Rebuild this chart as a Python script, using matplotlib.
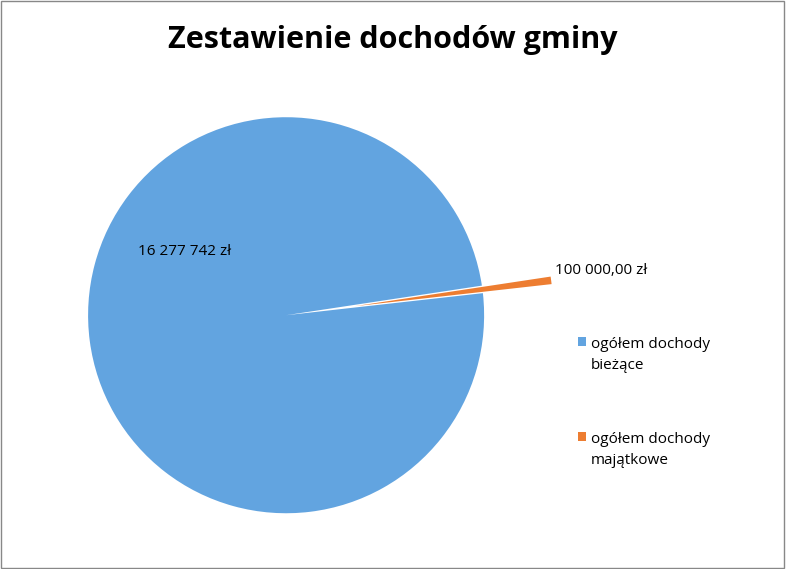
import matplotlib.pyplot as plt
from matplotlib.patches import Rectangle

categories = ["ogółem dochody\nbieżące", "ogółem dochody\nmajątkowe"]
values = [16277742, 100000]
value_labels = ["16 277 742 zł", "100 000,00 zł"]
colors = ["#62a4e0", "#ed7d31"]

plt.rcParams['font.family'] = ['Open Sans', 'DejaVu Sans']

fig = plt.figure(figsize=(7.86, 5.69), dpi=100)
fig.patches.append(Rectangle((0.001, 0.001), 0.997, 0.997, transform=fig.transFigure,
                             fill=False, edgecolor="#888888", linewidth=1))

ax = fig.add_axes([0.112, 0.098, 0.504, 0.696])
wedges, _ = ax.pie(values, colors=colors, startangle=6.4, counterclock=False,
                   explode=[0, 0.35], wedgeprops=dict(linewidth=0))
for w in wedges:
    w.set_clip_on(False)
ax.set_xlim(-1, 1)
ax.set_ylim(-1, 1)
ax.set_aspect("equal")
ax.axis("off")

fig.text(0.5, 0.93, "Zestawienie dochodów gminy", ha="center", va="center",
         fontsize=22, fontweight="bold")
fig.text(0.176, 0.558, value_labels[0], fontsize=11, va="center")
fig.text(0.706, 0.525, value_labels[1], fontsize=11, va="center")

leg_y = [0.40, 0.233]
for cat, col, y in zip(categories, colors, leg_y):
    fig.patches.append(Rectangle((0.735, y - 0.008), 0.011, 0.015, transform=fig.transFigure,
                                 facecolor=col, edgecolor="none"))
    fig.text(0.752, y + 0.008, cat, fontsize=11, va="top", linespacing=1.6)

fig.savefig("out.png", dpi=100)
